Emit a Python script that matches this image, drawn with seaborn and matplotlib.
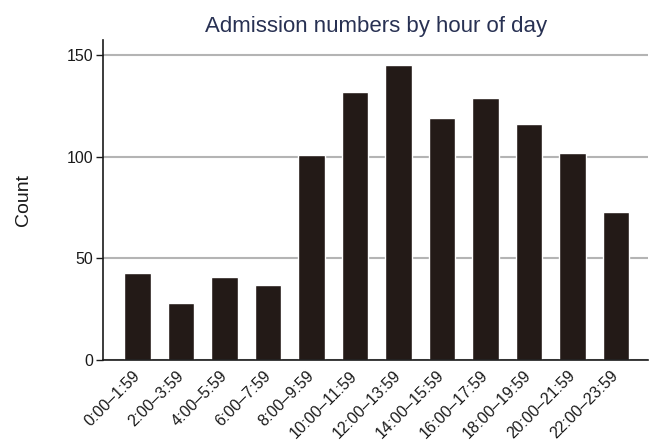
import matplotlib
matplotlib.use("Agg")
import pandas as pd
import seaborn as sns
import matplotlib.pyplot as plt

# Admissions per two-hour block
hours = ["0:00\u20131:59", "2:00\u20133:59", "4:00\u20135:59", "6:00\u20137:59",
         "8:00\u20139:59", "10:00\u201311:59", "12:00\u201313:59", "14:00\u201315:59",
         "16:00\u201317:59", "18:00\u201319:59", "20:00\u201321:59", "22:00\u201323:59"]
counts = [43, 28, 41, 37, 101, 132, 145, 119, 129, 116, 102, 73]

df = pd.DataFrame({"hour": hours, "count": counts})

sns.set_style("white")
plt.rcParams["font.family"] = ["Liberation Sans", "DejaVu Sans"]

fig = plt.figure(figsize=(6.66, 4.42), dpi=100)
ax = fig.add_axes([0.155, 0.1855, 0.818, 0.724])

ax.yaxis.grid(True, color="#b4b4b4", linewidth=1.5)
ax.set_axisbelow(True)
sns.barplot(data=df, x="hour", y="count", color="#231a17", width=0.61,
            saturation=1, ax=ax)

ax.set_xlim(-0.79, 11.74)
ax.set_ylim(0, 157.5)
ax.set_yticks([0, 50, 100, 150])
ax.set_title("Admission numbers by hour of day", color="#283153",
             fontsize=16, pad=6)
ax.set_xlabel("")
ax.set_ylabel("Count", fontsize=14, color="#1a1a1a")
ax.yaxis.set_label_coords(-0.13, 0.5)

for s in ["top", "right"]:
    ax.spines[s].set_visible(False)
for s in ["left", "bottom"]:
    ax.spines[s].set_color("#1a1a1a")
    ax.spines[s].set_linewidth(1.2)

ax.tick_params(axis="y", left=True, length=5, width=1, labelsize=11.5,
               colors="#1a1a1a", pad=2)
ax.tick_params(axis="x", bottom=False, labelsize=11.5, pad=6,
               colors="#1a1a1a")
plt.setp(ax.get_xticklabels(), rotation=45, ha="right", va="center",
         rotation_mode="anchor")

fig.savefig("out.png", dpi=100)
